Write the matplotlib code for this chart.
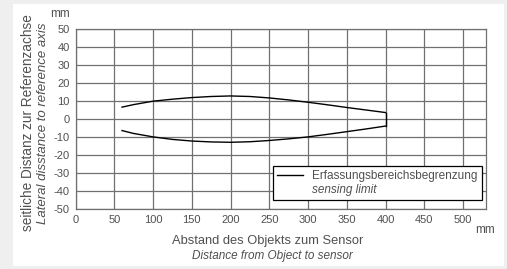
import matplotlib
matplotlib.use("Agg")
import matplotlib.pyplot as plt
from matplotlib.patches import Rectangle
from matplotlib.lines import Line2D

# Data
dist_mm = [60, 75, 100, 125, 150, 175, 200, 225, 250, 275, 300, 325, 350, 375, 400]
upper_mm = [6.5, 7.9, 9.8, 10.9, 11.8, 12.4, 12.7, 12.4, 11.6, 10.5, 9.2, 7.8, 6.3, 4.9, 3.5]
lower_mm = [-6.5, -8.1, -10.0, -11.4, -12.3, -12.8, -13.0, -12.7, -12.0, -11.1, -10.0, -8.6, -7.1, -5.6, -4.0]
x_ticks = [0, 50, 100, 150, 200, 250, 300, 350, 400, 450, 500]
y_ticks = [-50, -40, -30, -20, -10, 0, 10, 20, 30, 40, 50]

W, H = 507, 269
plt.rcParams["font.family"] = ["Liberation Sans", "DejaVu Sans"]
plt.rcParams["axes.unicode_minus"] = False
fig = plt.figure(figsize=(W / 100, H / 100), dpi=100, facecolor="#efefef")

fig.patches.append(Rectangle((13 / W, 1 - 266 / H), 491 / W, 262 / H,
                             transform=fig.transFigure, facecolor="white",
                             edgecolor="none", zorder=-10))

ax = fig.add_axes([75.5 / W, 1 - 209 / H, (486.3 - 75.5) / W, (209 - 28.7) / H])
ax.set_zorder(1)
ax.set_facecolor("white")
ax.set_xlim(0, 530)
ax.set_ylim(-50, 50)
ax.set_xticks(x_ticks)
ax.set_yticks(y_ticks)
ax.grid(True, color="#707070", lw=0.9)
ax.set_axisbelow(True)
for s in ax.spines.values():
    s.set_color("#707070")
    s.set_linewidth(0.9)
ax.tick_params(length=0, labelsize=8, colors="#505050", pad=4)

line, = ax.plot(dist_mm, upper_mm, color="black", lw=1.0)
ax.plot(dist_mm, lower_mm, color="black", lw=1.0)
ax.plot([dist_mm[-1], dist_mm[-1]], [lower_mm[-1], upper_mm[-1]], color="black", lw=1.0)

blank = Line2D([], [], color="none")
leg = ax.legend([line, blank], ["Erfassungsbereichsbegrenzung", "sensing limit"],
                loc="upper left", bbox_to_anchor=(272.7 / W, 1 - 166 / H),
                bbox_transform=fig.transFigure, fontsize=8.5, frameon=True,
                fancybox=False, edgecolor="black", framealpha=1,
                labelspacing=0.15, handlelength=2.2, borderpad=0.35,
                handletextpad=0.8, borderaxespad=0)
leg.get_frame().set_linewidth(0.9)
for t in leg.get_texts():
    t.set_color("#505050")
leg.get_texts()[1].set_style("italic")

gray = "#505050"
fig.text(60 / W, 1 - 14 / H, "mm", fontsize=8.5, color=gray, ha="center", va="center")
fig.text(485 / W, 1 - 230 / H, "mm", fontsize=8.5, color=gray, ha="center", va="center")
fig.text(28 / W, 1 - 123 / H, "seitliche Distanz zur Referenzachse", rotation=90,
         fontsize=9.8, color=gray, ha="center", va="center")
fig.text(43 / W, 1 - 123 / H, "Lateral disstance to reference axis", rotation=90,
         fontsize=9.5, color=gray, ha="center", va="center", style="italic")
fig.text(268 / W, 1 - 241 / H, "Abstand des Objekts zum Sensor",
         fontsize=9.3, color=gray, ha="center", va="center")
fig.text(272 / W, 1 - 256 / H, "Distance from Object to sensor",
         fontsize=8.5, color=gray, ha="center", va="center", style="italic")

fig.savefig("out.png", dpi=100, facecolor=fig.get_facecolor())
